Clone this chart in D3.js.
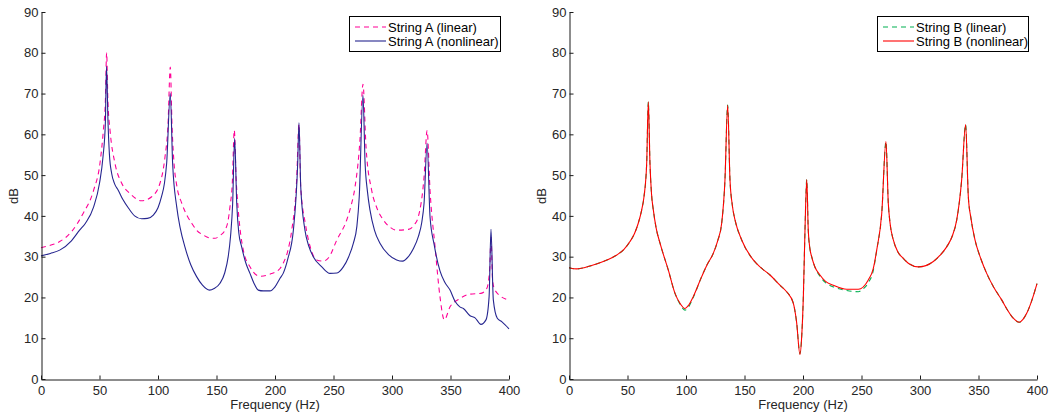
<!DOCTYPE html>
<html>
<head>
<meta charset="utf-8">
<script src="https://cdn.jsdelivr.net/npm/d3@7"></script>
<style>
	body { margin: 0; background: #fff; }
	svg { display: block; }
</style>
</head>
<body>
<div id="chart"></div>
<script>
'use strict';

// ---- data (frequency in Hz, level in dB) ----
var aLinearHz = [0, 8, 16, 26, 36, 45, 50.4, 53.3, 55, 56.1, 57.2, 59, 63.2, 69, 76, 86, 94.6, 101.7, 106, 108.5, 110.5, 112, 113.7,
	116, 120.3, 125, 128.8, 133, 138.7, 144, 148.7, 153, 157.3, 160, 161.5, 163.5, 165.2, 166.8, 168.6, 172.9, 178.6, 187.2, 195.7, 204.3, 207, 211, 214.3, 218.5,
	220.5, 222, 226, 230, 235.6, 241, 246, 252.7, 261.3, 265, 268.4, 272.6, 275.2, 277.8, 282.6, 287, 292.6, 298, 304, 314,
	319, 322.5, 327.4, 330, 332.5, 336.8, 341, 344.7, 349.6, 356.7, 366.7, 376, 381, 383.5, 384.6, 386, 388, 398, 400];
var aLinearDb = [32.2, 32.8, 33.7, 36.1, 40.6, 46.3, 52.9, 61, 68, 80, 68, 61, 52.9, 48, 45.5, 43.7, 44.7, 48, 54.5, 62, 76.5, 62, 52.9,
	47.5, 43.1, 40, 38.2, 36.5, 35.3, 34.6, 34.5, 35.2, 36.5, 39, 42.2, 48, 61, 49, 41.4, 31.6, 27.5, 25.2, 25.7, 27.1, 28.4, 31.5, 36.5, 48.8,
	62.5, 47, 38, 32.5, 29.2, 28.9, 29.8, 34, 39, 42.5, 47.1, 58.6, 72.3, 56.9, 46.3, 42, 39, 37.3, 36.5, 36.7,
	37.8, 39.8, 49.6, 60.9, 46.3, 32.4, 20.2, 14.5, 17.7, 19.5, 20.8, 21, 22.2, 27, 35, 24, 21.8, 19.5, 19.3];

var aNonlinHz = [0, 8, 16, 26, 33, 38, 45, 50, 53, 55, 56, 57.3, 58.5, 60.4, 63, 66, 70, 75, 80, 86, 91, 96, 100, 103, 105.5, 107.4, 110.5, 112.5, 116,
	119, 123, 128, 133, 138, 144, 148, 153, 157, 160, 162, 163.8, 165.5, 167.3, 169, 171.5, 175, 178.6, 182, 185.7, 190, 195.7, 200, 204.3, 207, 211, 215.7, 219.4,
	220.5, 222, 225.6, 229, 232.7, 240, 247, 253, 258.4, 263, 267, 270, 272, 275.2, 277, 279, 281.2, 285, 289.7, 297, 304, 309, 314, 318, 322.5,
	325.5, 327.4, 330, 332.5, 336, 341, 345, 349.6, 354, 358, 361, 366.7, 371, 376, 380.3, 383, 384.6, 386.6, 390, 394, 400];
var aNonlinDb = [30.2, 30.8, 31.6, 33.9, 36.5, 38.2, 42.2, 48, 54.5, 62.7, 76.7, 62.7, 55, 50.4, 47.8, 46.3, 44, 41.8, 40, 39.3, 39.4, 40.2, 42, 44.7, 48, 52.9, 70, 52.9, 42.2,
	37, 32.4, 28, 25.1, 23, 21.8, 22.2, 23.5, 26, 30, 35, 43, 59, 43, 36, 32.4, 28.5, 25.9, 23.5, 21.8, 21.6, 21.6, 22.6, 24.7, 25.9, 29.5, 36.5, 52.9,
	62.8, 47.1, 36.5, 32.5, 30, 27.5, 25.9, 26, 27.5, 30, 33.3, 37.5, 44.7, 69.6, 52.9, 46, 41.4, 36.5, 33.3, 30.5, 29.2, 28.9, 30, 31.8, 34.9,
	38.5, 43.1, 57.8, 39.8, 33, 26.5, 23.8, 21.8, 19, 17.7, 17.3, 15.5, 15, 13.4, 14.5, 20.2, 36.7, 19.4, 14.9, 14, 12.3];

var bLinearHz = [0, 6.6, 18, 29.3, 40.8, 47, 52.1, 56, 59.2, 62, 64.1, 66.4, 67.8, 69.2, 70.5, 72.1, 74.5, 77.8, 84.9, 90.6, 95, 99.1, 102, 106.2,
	113.4, 118, 123.3, 127, 130.5, 133.3, 135.6, 137.6, 139.5, 141.9, 147.6, 157.5, 164, 171.8, 180.3, 186, 191.7, 194.5, 197.4, 199, 200.3,
	201.7, 203.2, 204.5, 205.8, 207.4, 210, 214.5, 219, 225.9, 237.4, 242, 247.3, 251, 255.8, 260, 263, 267.3, 270.9, 272.9, 274.5, 277.2, 281, 285.7,
	291, 298.5, 305, 311.4, 317, 322.8, 327.5, 331.4, 335.6, 339, 341.3, 343.5, 347, 352, 357, 363, 369.8, 375, 379.7, 384.9, 388, 391.2, 395, 400];
var bLinearDb = [27.3, 27, 27.7, 28.8, 30.4, 31.8, 33.7, 35.7, 38.2, 41.3, 44.7, 52.9, 68, 52.9, 45.5, 41.4, 37, 33.3, 26.7, 21, 18.3, 16.9, 17.6, 20,
	25.1, 28, 30.8, 33.8, 38.2, 48.8, 67.2, 48.8, 42.8, 39, 34.1, 29.2, 27.3, 25.5, 23, 21.4, 18.6, 14, 6.2, 11, 20.2,
	36.5, 48.9, 36.5, 32.2, 30, 27.6, 25.2, 23.7, 22.6, 21.7, 21.5, 21.4, 22, 23.6, 26.5, 31.6, 40.6, 58.2, 43.1, 38, 34.1, 31.2, 29.6,
	28.2, 27.5, 27.8, 28.8, 30.3, 32.4, 35, 39, 48.8, 62.4, 44.7, 39.5, 34.1, 29.5, 25.9, 22.5, 19.4, 16.8, 14.9, 13.9, 14.6, 16.1, 18.8, 23.4];

var bNonlinHz = [0, 6.6, 18, 29.3, 40.8, 47, 52.1, 56, 59.2, 62, 64.1, 66.4, 67.8, 69.2, 70.5, 72.1, 74.5, 77.8, 84.9, 90.6, 95, 99.1, 102, 106.2,
	113.4, 118, 123.3, 127, 130.5, 133.3, 135.6, 137.6, 139.5, 141.9, 147.6, 157.5, 164, 171.8, 180.3, 186, 191.7, 194.5, 197.4, 199, 200.3,
	201.7, 203.2, 204.5, 205.8, 207.4, 210, 214.5, 219, 225.9, 237.4, 247.3, 255.8, 260, 263, 267.3, 270.9, 272.9, 274.5, 277.2, 281, 285.7,
	291, 298.5, 305, 311.4, 317, 322.8, 327.5, 331.4, 335.6, 339, 341.3, 343.5, 347, 352, 357, 363, 369.8, 375, 379.7, 384.9, 388, 391.2, 395, 400];
var bNonlinDb = [27.3, 27, 27.7, 28.8, 30.4, 31.8, 33.7, 35.7, 38.2, 41.3, 44.7, 52.9, 68, 52.9, 45.5, 41.4, 37, 33.3, 26.7, 21, 18.5, 17.3, 18, 20.2,
	25.1, 28, 30.8, 33.8, 38.2, 48.8, 67.2, 48.8, 42.8, 39, 34.1, 29.2, 27.3, 25.5, 23, 21.4, 18.6, 14, 6, 11, 20.2,
	36.5, 48.9, 36.5, 32.2, 30, 27.6, 25.5, 24, 23, 22, 22, 24.3, 27, 31.6, 40.6, 58.2, 43.1, 38, 34.1, 31.2, 29.6,
	28.2, 27.5, 27.8, 28.8, 30.3, 32.4, 35, 39, 48.8, 62.4, 44.7, 39.5, 34.1, 29.5, 25.9, 22.5, 19.4, 16.8, 14.9, 13.9, 14.6, 16.1, 18.8, 23.4];

var xTicks = [0, 50, 100, 150, 200, 250, 300, 350, 400];
var yTicks = [0, 10, 20, 30, 40, 50, 60, 70, 80, 90];
var legendA = ["String A (linear)", "String A (nonlinear)"];
var legendB = ["String B (linear)", "String B (nonlinear)"];

// ---- drawing ----
var width = 1052, height = 414;
var fontFamily = "'Liberation Sans', Arial, Helvetica, sans-serif";
var fontSize = "13px";
var textColor = "#262626";

var svg = d3.select("#chart").append("svg")
	.attr("width", width)
	.attr("height", height)
	.attr("font-family", fontFamily);

function zip(hz, db) {
	return hz.map(function(f, i) { return [f, db[i]]; });
}

function drawPanel(left, right, series, labels, legendX) {
	var x = d3.scaleLinear().domain([0, 400]).range([left, right]);
	var y = d3.scaleLinear().domain([0, 90]).range([379, 12]);
	var g = svg.append("g");

	var line = d3.line()
		.curve(d3.curveMonotoneX)
		.x(function(d) { return x(d[0]); })
		.y(function(d) { return y(d[1]); });

	series.forEach(function(s) {
		g.append("path")
			.datum(s.data)
			.attr("fill", "none")
			.attr("stroke", s.color)
			.attr("stroke-width", s.width)
			.attr("stroke-dasharray", s.dash)
			.attr("stroke-linejoin", "round")
			.attr("d", line);
	});

	var xAxis = g.append("g")
		.attr("transform", "translate(0,379.5)")
		.call(d3.axisBottom(x).tickValues(xTicks).tickSizeInner(-4).tickSizeOuter(0).tickPadding(6));
	var yAxis = g.append("g")
		.attr("transform", "translate(" + (left + 0.5) + ",0)")
		.call(d3.axisLeft(y).tickValues(yTicks).tickSizeInner(-4).tickSizeOuter(0).tickPadding(3));

	[xAxis, yAxis].forEach(function(ax) {
		ax.selectAll("path, line").attr("stroke", "#1a1a1a");
		ax.selectAll("text")
			.attr("fill", textColor)
			.attr("font-size", fontSize)
			.attr("font-family", fontFamily);
	});

	g.append("text")
		.attr("x", (left + right) / 2)
		.attr("y", 409)
		.attr("text-anchor", "middle")
		.attr("font-size", fontSize)
		.attr("fill", textColor)
		.text("Frequency (Hz)");

	g.append("text")
		.attr("transform", "translate(" + (left - 23) + ",196) rotate(-90)")
		.attr("text-anchor", "middle")
		.attr("font-size", fontSize)
		.attr("fill", textColor)
		.text("dB");

	// legend box in the upper right corner
	var lg = g.append("g").attr("transform", "translate(" + legendX + ",16)");
	lg.append("rect")
		.attr("x", 0.5).attr("y", 0.5)
		.attr("width", 151).attr("height", 35)
		.attr("fill", "#fff")
		.attr("stroke", "#000")
		.attr("stroke-width", 1);
	labels.forEach(function(label, i) {
		var ly = 11 + i * 14;
		var s = series[i];
		lg.append("line")
			.attr("x1", 6).attr("x2", 37)
			.attr("y1", ly).attr("y2", ly)
			.attr("stroke", s.color)
			.attr("stroke-width", s.width)
			.attr("stroke-dasharray", s.dash);
		lg.append("text")
			.attr("x", 39)
			.attr("y", ly)
			.attr("dy", "0.35em")
			.attr("font-size", fontSize)
			.attr("fill", "#000")
			.text(label);
	});
}

drawPanel(41, 509, [
	{ data: zip(aLinearHz, aLinearDb), color: "#ff0096", width: 1.1, dash: "5,4" },
	{ data: zip(aNonlinHz, aNonlinDb), color: "#25258f", width: 1.1, dash: null }
], legendA, 349);

drawPanel(569, 1037, [
	{ data: zip(bLinearHz, bLinearDb), color: "#00b050", width: 1.1, dash: "5,4" },
	{ data: zip(bNonlinHz, bNonlinDb), color: "#ff0000", width: 1.1, dash: null }
], legendB, 877);
</script>
</body>
</html>
